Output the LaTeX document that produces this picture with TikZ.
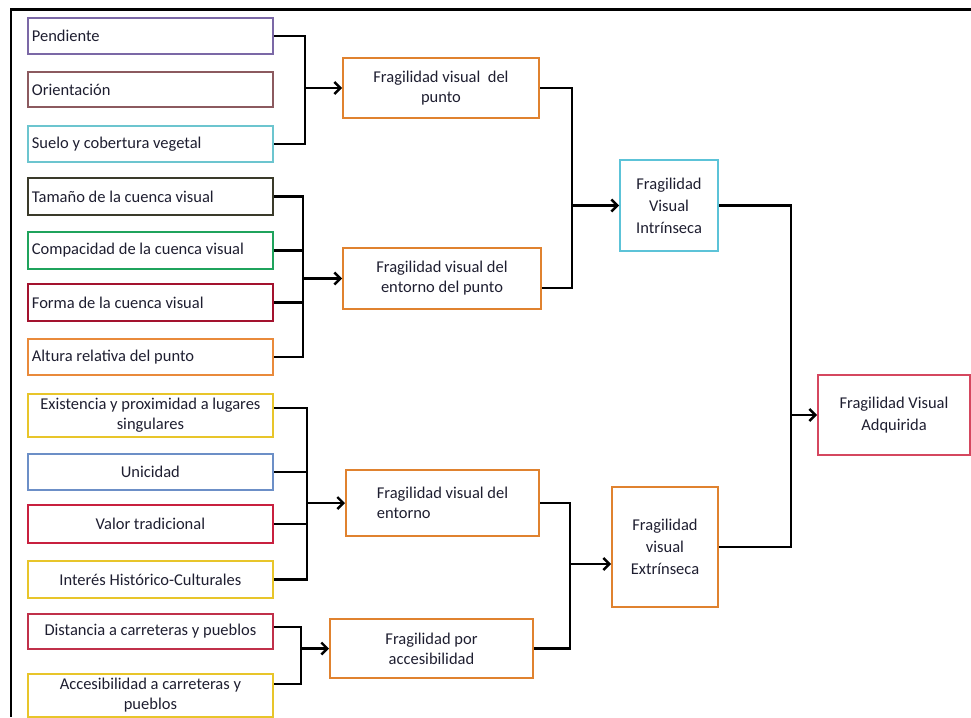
\documentclass[tikz,border=0pt]{standalone}
\usepackage{fontspec}
\setmainfont{Carlito}
\usetikzlibrary{arrows.meta,calc}
\definecolor{cPend}{HTML}{7B68A6}
\definecolor{cOri}{HTML}{8C5A5F}
\definecolor{cSuelo}{HTML}{6CC5CF}
\definecolor{cTam}{HTML}{3A3A2A}
\definecolor{cComp}{HTML}{1FA35C}
\definecolor{cForma}{HTML}{A3122E}
\definecolor{cAlt}{HTML}{E98A3B}
\definecolor{cYel}{HTML}{E8C52A}
\definecolor{cUni}{HTML}{6C8FC7}
\definecolor{cValor}{HTML}{C8203F}
\definecolor{cDist}{HTML}{C0304A}
\definecolor{cMid}{HTML}{E0822F}
\definecolor{cIntr}{HTML}{5CC3D8}
\definecolor{cAdq}{HTML}{D5475F}
\definecolor{ctext}{HTML}{1E1E30}
\begin{document}
\begin{tikzpicture}[x=1pt,y=-1pt,
  every node/.style={font=\fontsize{16.5}{20}\selectfont, text=ctext},
  lbox/.style={draw, line width=1.8pt, anchor=north west, minimum width=245pt,
    inner xsep=4pt, inner ysep=0pt, text width=237pt, align=flush left},
  cbox/.style={draw, line width=1.8pt, anchor=north west, minimum width=245pt,
    inner xsep=4pt, inner ysep=0pt, text width=237pt, align=flush center},
  mbox/.style={draw=cMid, line width=2pt, anchor=north west, inner sep=0pt, align=center},
  conn/.style={line width=2.4pt, black},
  arr/.style={line width=2.4pt, black, -{Straight Barb[length=6pt,width=12pt,line width=2.4pt]}}
]
\useasboundingbox (0,0) rectangle (971,717);
% frame
\draw[line width=3pt] (10,10) -- (971,10);
\draw[line width=2.5pt] (11,10) -- (11,717);

% left boxes
\node[lbox, draw=cPend, minimum height=36pt] (pend) at (27,17) {Pendiente};
\node[lbox, draw=cOri, minimum height=35pt] (ori) at (27,71) {Orientación};
\node[lbox, draw=cSuelo, minimum height=36pt] (suelo) at (27,125) {Suelo y cobertura vegetal};
\node[lbox, draw=cTam, minimum height=37pt] (tam) at (27,177) {Tamaño de la cuenca visual};
\node[lbox, draw=cComp, minimum height=37pt] (comp) at (27,231) {Compacidad de la cuenca visual};
\node[lbox, draw=cForma, minimum height=37pt] (forma) at (27,283) {Forma de la cuenca visual};
\node[lbox, draw=cAlt, minimum height=36pt] (alt) at (27,338) {Altura relativa del punto};
\node[cbox, draw=cYel, minimum height=43pt] (exis) at (27,393) {Existencia y proximidad a lugares\\singulares};
\node[cbox, draw=cUni, minimum height=36pt] (uni) at (27,453) {Unicidad};
\node[cbox, draw=cValor, minimum height=38pt] (valor) at (27,504) {Valor tradicional};
\node[cbox, draw=cYel, minimum height=37pt] (inter) at (27,560) {Interés Histórico-Culturales};
\node[cbox, draw=cDist, minimum height=35pt] (dist) at (27,613) {Distancia a carreteras y pueblos};
\node[cbox, draw=cYel, minimum height=43pt] (acc) at (27,673) {Accesibilidad a carreteras y\\pueblos};

% middle boxes
\node[mbox, minimum width=196pt, minimum height=60pt] (m1) at (342,57) {Fragilidad visual~ del\\punto};
\node[mbox, minimum width=198pt, minimum height=61pt] (m2) at (342,247) {Fragilidad visual del\\entorno del punto};
\node[mbox, minimum width=193pt, minimum height=66pt, align=left] (m3) at (345,469) {Fragilidad visual del\\entorno};
\node[mbox, minimum width=203pt, minimum height=59pt] (m4) at (329,618) {Fragilidad por\\accesibilidad};

% right boxes
\node[mbox, draw=cIntr, minimum width=98pt, minimum height=91pt, font=\fontsize{16.5}{22}\selectfont] (intr) at (619,159) {Fragilidad\\Visual\\Intrínseca};
\node[mbox, draw=cMid, minimum width=106pt, minimum height=120pt, font=\fontsize{16.5}{22}\selectfont] (extr) at (611,486) {Fragilidad\\visual\\Extrínseca};
\node[mbox, draw=cAdq, minimum width=152pt, minimum height=80pt, font=\fontsize{16.5}{22}\selectfont] (adq) at (817,374) {Fragilidad Visual\\Adquirida};

% bracket x positions
\coordinate (b1) at (305,0);
\coordinate (b2) at (303,0);
\coordinate (b3) at (307,0);
\coordinate (b4) at (301,0);
\coordinate (b5) at (572,0);
\coordinate (b6) at (570,0);
\coordinate (b7) at (791,0);

% group 1
\draw[conn] (pend.east) -- (pend.east -| b1) |- (suelo.east);
\draw[arr] (b1 |- m1.west) -- (m1.west);

% group 2
\draw[conn] (tam.east) -- (tam.east -| b2) |- (alt.east);
\draw[conn] (comp.east) -- (comp.east -| b2);
\draw[conn] (forma.east) -- (forma.east -| b2);
\draw[arr] (b2 |- m2.west) -- (m2.west);

% group 3
\coordinate (e1) at ($(exis.north east)+(0,15)$);
\draw[conn] (e1) -- (e1 -| b3) |- (inter.east);
\draw[conn] (uni.east) -- (uni.east -| b3);
\draw[conn] (valor.east) -- (valor.east -| b3);
\draw[arr] (b3 |- m3.west) -- (m3.west);

% group 4
\coordinate (d1) at ($(dist.north east)+(0,14)$);
\coordinate (a1) at ($(acc.north east)+(0,11)$);
\draw[conn] (d1) -- (d1 -| b4) |- (a1);
\draw[arr] (b4 |- m4.west) -- (m4.west);

% intrinseca
\coordinate (m2c) at ($(m2.south east)+(0,-22)$);
\draw[conn] (m1.east) -- (m1.east -| b5) |- (m2c);
\draw[arr] (b5 |- intr.west) -- (intr.west);

% extrinseca
\coordinate (ex1) at ($(extr.west)+(0,17)$);
\draw[conn] (m3.east) -- (m3.east -| b6) |- (m4.east);
\draw[arr] (b6 |- ex1) -- (ex1);

% adquirida
\draw[conn] (intr.east) -- (intr.east -| b7) |- (extr.east);
\draw[arr] (b7 |- adq.west) -- (adq.west);
\end{tikzpicture}
\end{document}
